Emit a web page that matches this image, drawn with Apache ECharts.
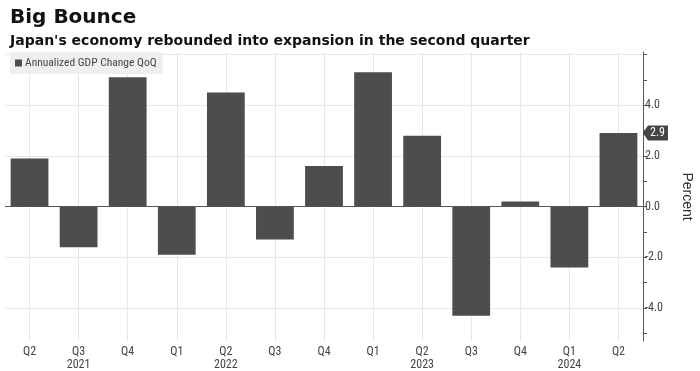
<!DOCTYPE html>
<html>
<head>
<meta charset="utf-8">
<script src="https://cdn.jsdelivr.net/npm/echarts@6/dist/echarts.min.js"></script>
<style>
html,body{margin:0;padding:0;background:#fff;}
#c{width:700px;height:371px;}
</style>
</head>
<body>
<div id="c"></div>
<script>
var quarters = ['Q2','Q3','Q4','Q1','Q2','Q3','Q4','Q1','Q2','Q3','Q4','Q1','Q2'];
var yearLabels = ['', '2021', '', '', '2022', '', '', '', '2023', '', '', '2024', ''];
var gdp = [1.9, -1.6, 5.1, -1.9, 4.5, -1.3, 1.6, 5.3, 2.8, -4.3, 0.2, -2.4, 2.9];
var yLabelValues = [-4, -2, 0, 2, 4];
var yTickValues = [-5, -4, -3, -2, -1, 0, 1, 2, 3, 4, 5, 6];
var yGridValues = [-4, -2, 2, 4, 6];
var seriesName = 'Annualized GDP Change QoQ';

var catLabels = quarters.map(function (q, i) {
  return yearLabels[i] ? q + '\n' + yearLabels[i] : q;
});
// auxiliary axis: 2n+1 points so odd points fall on category centres
var aux = [];
for (var i = 0; i < quarters.length * 2 + 1; i++) aux.push(String(i));

var narrow = '"Liberation Sans Narrow", "Roboto Condensed", "Liberation Sans", sans-serif';
var lastIdx = gdp.length - 1;

var chart = echarts.init(document.getElementById('c'));
chart.setOption({
  animation: false,
  backgroundColor: '#ffffff',
  title: [
    { text: 'Big Bounce', left: 5, top: 3,
      textStyle: { fontFamily: 'DejaVu Sans', fontWeight: 'bold', fontSize: 20, color: '#111' } },
    { text: "Japan's economy rebounded into expansion in the second quarter", left: 5, top: 29,
      textStyle: { fontFamily: 'DejaVu Sans', fontWeight: 'bold', fontSize: 14, color: '#111' } }
  ],
  legend: {
    left: 10, top: 52,
    backgroundColor: '#efefef',
    padding: [5, 6, 5, 5],
    itemWidth: 7, itemHeight: 7, itemGap: 4,
    icon: 'rect',
    textStyle: { fontFamily: narrow, fontSize: 11.5, color: '#444', padding: [0, 0, 0, -2] },
    data: [seriesName]
  },
  grid: { left: 5, right: 57, top: 52, bottom: 30, containLabel: false, outerBoundsMode: 'none' },
  xAxis: [
    {
      type: 'category', data: catLabels, position: 'bottom',
      axisLine: { show: false, onZero: false }, axisTick: { show: false },
      splitLine: { show: false },
      axisLabel: { interval: 0, fontFamily: narrow, fontSize: 12, color: '#444', lineHeight: 13, margin: 4 }
    },
    {
      type: 'category', data: aux, boundaryGap: false, position: 'bottom',
      axisLine: { show: false, onZero: false }, axisTick: { show: false }, axisLabel: { show: false },
      splitLine: { show: true, interval: function (idx) { return idx % 2 === 1; },
        lineStyle: { color: '#e8e8e8', width: 1 } }
    }
  ],
  yAxis: [
    {
      type: 'value', position: 'right', min: -5.3, max: 6.1,
      axisLine: { show: true, lineStyle: { color: '#555', width: 1 } },
      axisTick: { show: true, customValues: yTickValues, length: 4, inside: false, lineStyle: { color: '#555' } },
      axisLabel: { customValues: yLabelValues, fontFamily: narrow, fontSize: 12, color: '#444', margin: 2,
        formatter: function (v) { return v.toFixed(1); } },
      splitLine: { show: false },
      name: 'Percent', nameLocation: 'middle', nameRotate: -90, nameGap: 37,
      nameTextStyle: { fontFamily: 'Liberation Sans', fontSize: 14, color: '#333' }
    },
    {
      type: 'value', position: 'right', min: -5.3, max: 6.1,
      axisLine: { show: false }, axisLabel: { show: false },
      axisTick: { show: false, customValues: yGridValues },
      splitLine: { show: true, lineStyle: { color: '#e8e8e8', width: 1 } }
    }
  ],
  series: [
    {
      name: seriesName, type: 'bar', data: gdp, xAxisIndex: 0, yAxisIndex: 0,
      barCategoryGap: '23%',
      itemStyle: { color: '#4d4d4d' },
      markLine: {
        silent: true, symbol: 'none', label: { show: false },
        lineStyle: { color: '#555', width: 1, type: 'solid' },
        data: [{ yAxis: 0 }]
      },
      markPoint: {
        silent: true,
        symbol: 'path://M0,7 L6,0 L30,0 L30,14 L6,14 Z',
        symbolSize: [25, 15],
        symbolOffset: [37, 0],
        itemStyle: { color: '#444' },
        label: { show: true, color: '#fff', fontFamily: narrow, fontSize: 12, offset: [2, 0],
          formatter: function (p) { return p.value.toFixed(1); } },
        data: [{ coord: [lastIdx, gdp[lastIdx]], value: gdp[lastIdx] }]
      }
    }
  ]
});
</script>
</body>
</html>
